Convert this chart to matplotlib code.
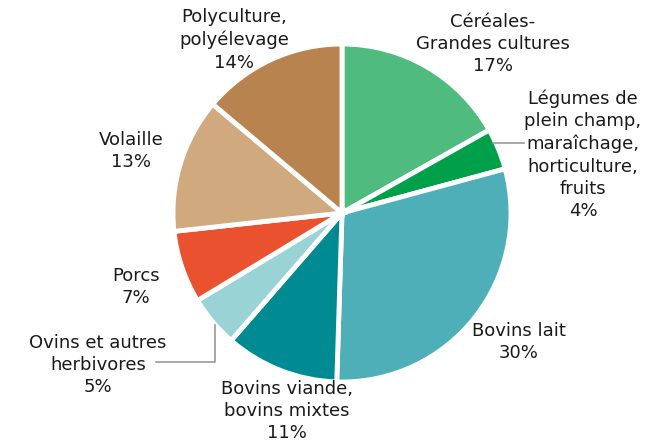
import matplotlib.pyplot as plt

labels = ['Céréales-\nGrandes cultures', 'Légumes de\nplein champ,\nmaraîchage,\nhorticulture,\nfruits',
          'Bovins lait', 'Bovins viande,\nbovins mixtes', 'Ovins et autres\nherbivores',
          'Porcs', 'Volaille', 'Polyculture,\npolyélevage']
values = [17, 4, 30, 11, 5, 7, 13, 14]
colors = ['#50bb7f', '#00a04b', '#4fafb8', '#008b92', '#99d3d5', '#e9512f', '#d1a97f', '#b8834e']

W, H = 661, 443
cx, cy, R = 342, 213, 169

fig = plt.figure(figsize=(W / 100, H / 100), dpi=100)
ax = fig.add_axes([(cx - R) / W, (H - cy - R) / H, 2 * R / W, 2 * R / H])
ax.pie(values, colors=colors, startangle=90, counterclock=False, radius=1,
       wedgeprops=dict(edgecolor='white', linewidth=3.5))
ax.set_xlim(-1, 1)
ax.set_ylim(-1, 1)
ax.set_aspect('equal')
ax.axis('off')


def px(x, y):
    # pixel position -> data coords
    return (x - cx) / R, (cy - y) / R


# label centers in pixels
pos = [(493, 44), (583, 155), (519, 342), (287, 411), (98, 365), (136, 287), (131, 151), (234, 40)]
for lab, v, (x, y) in zip(labels, values, pos):
    tx, ty = px(x, y)
    ax.text(tx, ty, lab + '\n' + str(v) + '%', ha='center', va='center', fontsize=13,
            color='#1a1a1a', linespacing=1.31, clip_on=False)

# leader lines
x0, y0 = px(493, 143)
x1, y1 = px(524, 143)
ax.plot([x0, x1], [y0, y1], color='#999999', lw=1.2, clip_on=False)
pts = [px(215, 325), px(215, 362), px(156, 362)]
ax.plot([p[0] for p in pts], [p[1] for p in pts], color='#999999', lw=1.2, clip_on=False)

fig.savefig('out.png', dpi=100)
